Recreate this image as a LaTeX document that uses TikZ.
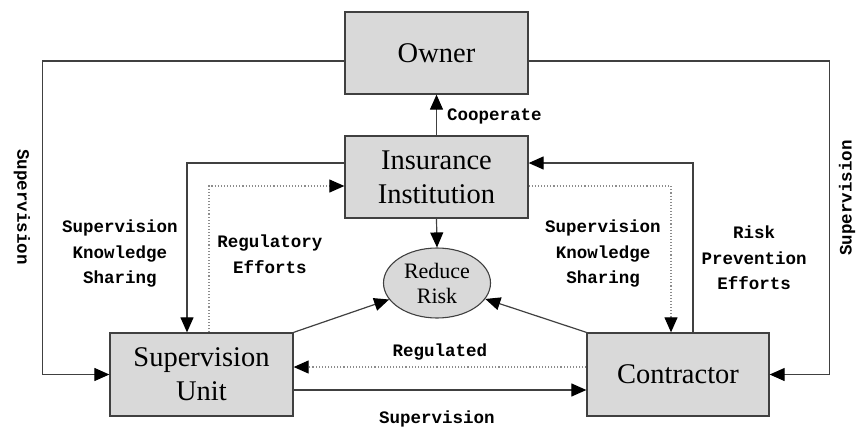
\documentclass[tikz,border=0pt]{standalone}
\usepackage{fontspec}
\setmainfont{Liberation Serif}
\newfontfamily\labfont{Liberation Mono}
\usetikzlibrary{arrows.meta,shapes.geometric}
\definecolor{boxfill}{RGB}{217,217,217}
\definecolor{linec}{RGB}{64,64,64}
\definecolor{dotc}{RGB}{140,140,140}
\tikzset{
  box/.style={draw=linec,line width=1.3pt,fill=boxfill,minimum width=183pt,minimum height=82pt,inner sep=0pt,align=center,font=\fontsize{28.5}{34}\selectfont},
  riskbox/.style={ellipse,draw=linec,line width=1.1pt,fill=boxfill,minimum width=107pt,minimum height=70pt,inner sep=0pt,align=center,font=\fontsize{22}{25}\selectfont},
  tip/.style={-{Triangle[length=15pt,width=13pt,color=black]}},
  conn/.style={draw=linec,line width=1.2pt,tip},
  dotconn/.style={draw=dotc,line width=1.1pt,dotted,tip},
  lab/.style={align=center,inner sep=0pt,font=\labfont\bfseries\fontsize{17.5}{25.5}\selectfont}
}
\begin{document}
\begin{tikzpicture}[x=1pt,y=-1pt]
\useasboundingbox (0,0) rectangle (856,431);
\node[box] (owner) at (436.5,53) {Owner};
\node[box] (ins) at (436.5,177) {Insurance\\Institution};
\node[box,minimum height=83pt] (su) at (201.5,374.5) {Supervision\\Unit};
\node[box,minimum height=83pt,minimum width=182pt] (con) at (678,374.5) {Contractor};
\node[riskbox] (rr) at (437,283) {Reduce\\Risk};

% owner supervision loops
\draw[conn] ([yshift=-8pt]owner.west) -- ++(-302,0) |- (su.west);
\draw[conn] ([yshift=-8pt]owner.east) -- ++(301,0) |- (con.east);
% cooperate
\draw[conn] (ins.north) -- (owner.south);
% insurance to reduce risk
\draw[conn] (ins.south) -- (rr.north);
% left side
\draw[conn] ([yshift=14pt]ins.west) -| ([xshift=-14.5pt]su.north);
\draw[dotconn] ([xshift=7.5pt]su.north) |- ([yshift=-9pt]ins.west);
% right side
\draw[conn] ([xshift=15pt]con.north) |- ([yshift=14pt]ins.east);
\draw[dotconn] ([yshift=-9pt]ins.east) -| ([xshift=-7pt]con.north);
% to reduce risk
\draw[conn] (su.north east) -- (rr);
\draw[conn] (con.north west) -- (rr);
% bottom
\draw[dotconn] ([yshift=7.5pt]con.west) -- ([yshift=7.5pt]su.east);
\draw[conn] ([yshift=-15.5pt]su.east) -- ([yshift=-15.5pt]con.west);

% labels
\node[lab,anchor=west] (lcoop) at (447,116) {Cooperate};
\node[lab] (lreg) at (440,352) {Regulated};
\node[lab] (lsup) at (437,419) {Supervision};
\node[lab] (lsks1) at (120,254) {Supervision\\Knowledge\\Sharing};
\node[lab] (lre) at (270,254) {Regulatory\\Efforts};
\node[lab] (lsks2) at (603,254) {Supervision\\Knowledge\\Sharing};
\node[lab] (lrpe) at (754,258) {Risk\\Prevention\\Efforts};
\node[lab,rotate=-90] (lsupl) at (22,207) {Supervision};
\node[lab,rotate=90] (lsupr) at (847,198) {Supervision};
\end{tikzpicture}
\end{document}
